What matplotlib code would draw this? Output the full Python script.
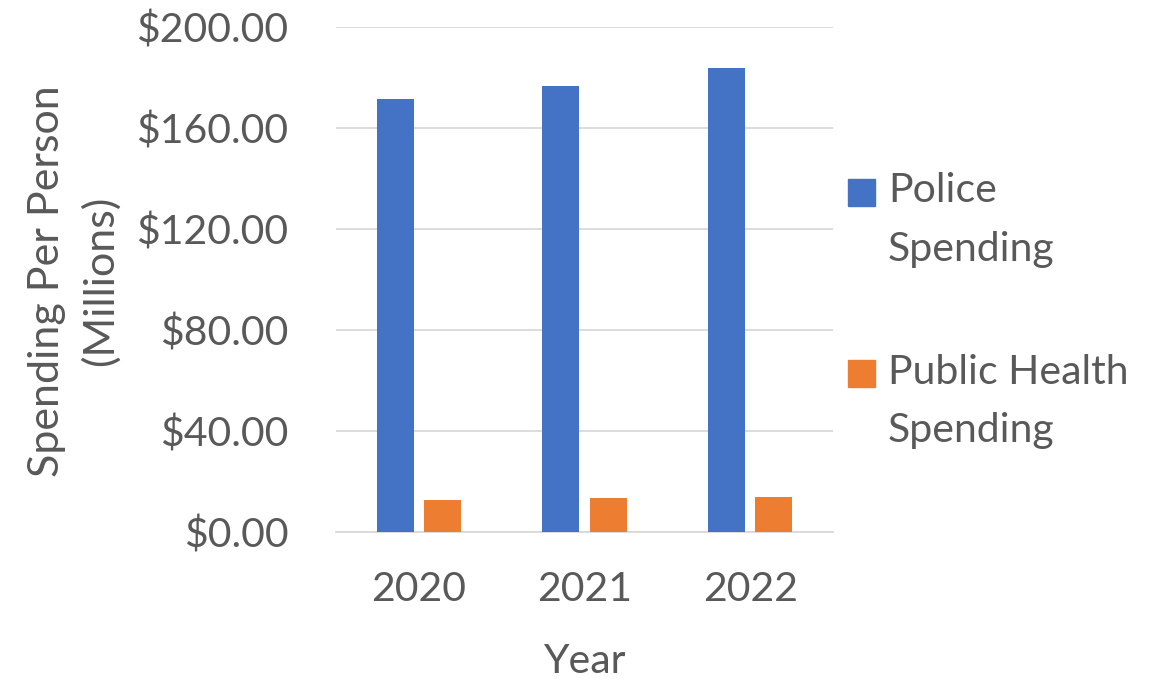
import matplotlib
matplotlib.use("Agg")
import matplotlib.pyplot as plt
from matplotlib.patches import Rectangle
import numpy as np

plt.rcParams["font.family"] = ["Lato", "DejaVu Sans"]

years = ["2020", "2021", "2022"]
police = [171.6, 176.7, 183.6]
public_health = [12.8, 13.5, 14.0]
series_names = ["Police\nSpending", "Public Health\nSpending"]
colors = ["#4472C4", "#ED7D31"]
yticks = [0, 40, 80, 120, 160, 200]

text_col = "#595959"
grid_col = "#D9D9D9"

fig = plt.figure(figsize=(11.71, 6.79), dpi=100)
ax = fig.add_axes([335.7 / 1171, 1 - 532.3 / 679, 497.6 / 1171, 505.3 / 679])

x = np.arange(len(years))
w = 0.223
ax.bar(x - 0.142, police, w, color=colors[0], zorder=3)
ax.bar(x + 0.142, public_health, w, color=colors[1], zorder=3)

ax.set_xlim(-0.5, len(years) - 0.5)
ax.set_ylim(0, 200)
ax.set_yticks(yticks)
ax.set_yticklabels(["${:.2f}".format(v) for v in yticks])
ax.set_xticks(x)
ax.set_xticklabels(years)
ax.yaxis.grid(True, color=grid_col, linewidth=1.3, zorder=0)
ax.tick_params(axis="both", length=0, labelsize=29.5, colors=text_col)
ax.tick_params(axis="y", pad=34)
ax.tick_params(axis="x", pad=28)
for s in ["top", "right", "left"]:
    ax.spines[s].set_visible(False)
ax.spines["bottom"].set_color(grid_col)
ax.spines["bottom"].set_linewidth(1.3)

ax.set_xlabel("Year", fontsize=29.5, color=text_col, labelpad=25)
fig.text(74 / 1171, 1 - 281 / 679, "Spending Per Person\n(Millions)", rotation=90,
         ha="center", va="center", fontsize=31, color=text_col, linespacing=1.45)

# legend, laid out like the Excel one (swatch next to first line)
leg_y = [192.5, 373.5]
for name, c, yy in zip(series_names, colors, leg_y):
    fig.patches.append(Rectangle((848 / 1171, 1 - (yy + 13.5) / 679), 27 / 1171, 27 / 679,
                                 transform=fig.transFigure, color=c))
    fig.text(888 / 1171, 1 - (yy - 20) / 679, name, ha="left", va="top",
             fontsize=29.5, color=text_col, linespacing=1.72)

fig.savefig("out.png", dpi=100)
